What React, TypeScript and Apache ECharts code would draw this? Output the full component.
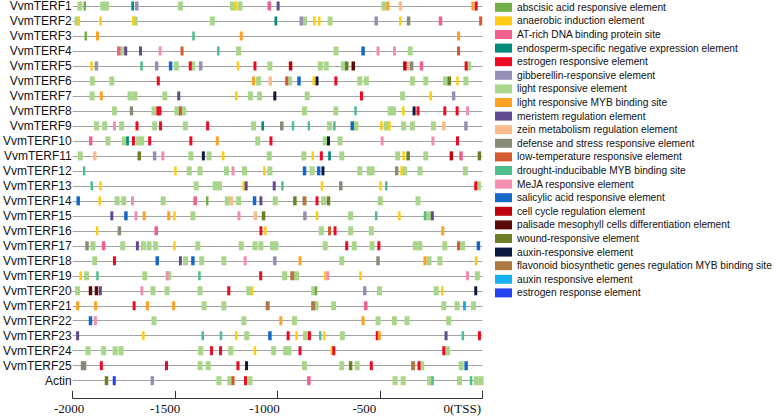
import React, { useEffect, useRef } from 'react';
import * as echarts from 'echarts';

// ---------- data ----------
const GENES = [
  'VvmTERF1', 'VvmTERF2', 'VvmTERF3', 'VvmTERF4', 'VvmTERF5', 'VvmTERF6', 'VvmTERF7',
  'VvmTERF8', 'VvmTERF9', 'VvmTERF10', 'VvmTERF11', 'VvmTERF12', 'VvmTERF13', 'VvmTERF14',
  'VvmTERF15', 'VvmTERF16', 'VvmTERF17', 'VvmTERF18', 'VvmTERF19', 'VvmTERF20', 'VvmTERF21',
  'VvmTERF22', 'VvmTERF23', 'VvmTERF24', 'VvmTERF25', 'Actin',
];

const TYPE_CODES = ['A', 'N', 'T', 'E', 'R', 'G', 'L', 'M', 'P', 'Z', 'D', 'W', 'Q', 'J', 'S', 'C', 'F', 'O', 'X', 'B', 'U', 'K'];

const TYPE_NAMES = [
  'abscisic acid responsive element',
  'anaerobic induction element',
  'AT-rich DNA binding protein site',
  'endosperm-specific negative expression element',
  'estrogen responsive element',
  'gibberellin-responsive element',
  'light responsive element',
  'light responsive MYB binding site',
  'meristem regulation element',
  'zein metabolism regulation element',
  'defense and stress responsive element',
  'low-temperature responsive element',
  'drought-inducibable MYB binding site',
  'MeJA responsive element',
  'salicylic acid responsive element',
  'cell cycle regulation element',
  'palisade mesophyll cells differentiation element',
  'wound-responsive element',
  'auxin-responsive element',
  'flavonoid biosynthetic genes regulation MYB binding site',
  'auxin responsive element',
  'estrogen response element',
];

const X_TICK_VALUES = [-2000, -1500, -1000, -500, 0];
const X_TICK_LABELS = ['-2000', '-1500', '-1000', '-500', '0(TSS)'];

type Site = [number, string];

const vvmTERF1: Site[] = [[-1965,'L'],[-1941,'A'],[-1853,'L'],[-1835,'L'],[-1707,'E'],[-1687,'G'],[-1474,'L'],[-1220,'L'],[-1183,'L'],[-1204,'N'],[-1040,'T'],[-997,'P'],[-480,'L'],[-461,'M'],[-400,'Z'],[-46,'M'],[-30,'R']];
const vvmTERF2: Site[] = [[-1979,'L'],[-1970,'N'],[-1864,'N'],[-1704,'N'],[-1695,'L'],[-1318,'L'],[-1008,'E'],[-884,'G'],[-868,'L'],[-820,'N'],[-796,'N'],[-743,'L'],[-518,'G'],[-400,'N'],[-360,'D'],[-204,'T'],[-8,'W']];
const vvmTERF3: Site[] = [[-1936,'A'],[-1879,'M'],[-1410,'Q'],[-1177,'M'],[-116,'M']];
const vvmTERF4: Site[] = [[-1775,'T'],[-1759,'L'],[-1741,'P'],[-1669,'P'],[-1573,'J'],[-1466,'W'],[-1289,'Q'],[-1190,'L'],[-714,'L'],[-582,'S'],[-509,'J'],[-429,'J'],[-352,'L'],[-116,'W']];
const vvmTERF5: Site[] = [[-1908,'N'],[-1884,'G'],[-1664,'Q'],[-1590,'G'],[-1522,'S'],[-1494,'L'],[-1426,'R'],[-1414,'L'],[-1375,'G'],[-1193,'N'],[-1110,'R'],[-1037,'L'],[-936,'C'],[-791,'L'],[-762,'L'],[-678,'L'],[-662,'O'],[-630,'F'],[-378,'C'],[-362,'Z'],[-345,'D'],[-297,'T'],[-79,'R'],[-66,'L']];
const vvmTERF6: Site[] = [[-1904,'L'],[-1809,'L'],[-1582,'R'],[-1117,'M'],[-1092,'L'],[-1035,'Z'],[-955,'W'],[-941,'L'],[-895,'S'],[-823,'N'],[-807,'X'],[-715,'R'],[-598,'L'],[-566,'L'],[-341,'L'],[-276,'L'],[-180,'L'],[-161,'O'],[-121,'N'],[-80,'L']];
const vvmTERF7: Site[] = [[-1905,'L'],[-1860,'M'],[-1720,'L'],[-1696,'L'],[-1550,'L'],[-1482,'P'],[-1201,'N'],[-1132,'L'],[-1088,'L'],[-1013,'X'],[-855,'L'],[-590,'R'],[-389,'L'],[-252,'N'],[-140,'G']];
const vvmTERF8: Site[] = [[-1796,'L'],[-1713,'D'],[-1603,'L'],[-1584,'R'],[-1574,'R'],[-1491,'L'],[-1474,'W'],[-1458,'L'],[-868,'L'],[-715,'L'],[-619,'Q'],[-450,'L'],[-434,'L'],[-386,'N'],[-333,'X'],[-314,'R'],[-183,'R'],[-123,'R'],[-72,'J']];
const vvmTERF9: Site[] = [[-1884,'L'],[-1844,'L'],[-1796,'J'],[-1761,'L'],[-1686,'R'],[-1600,'L'],[-1571,'R'],[-1450,'L'],[-1341,'R'],[-1117,'L'],[-1072,'E'],[-979,'D'],[-924,'Q'],[-847,'Q'],[-746,'L'],[-722,'Q'],[-635,'S'],[-617,'L'],[-493,'N'],[-469,'L'],[-453,'N'],[-384,'L'],[-341,'L'],[-239,'L'],[-188,'Z'],[-80,'G']];
const vvmTERF10: Site[] = [[-1912,'T'],[-1828,'L'],[-1748,'L'],[-1732,'E'],[-1703,'R'],[-1678,'L'],[-1663,'L'],[-1624,'R'],[-1423,'R'],[-1294,'M'],[-1096,'L'],[-1032,'R'],[-767,'L'],[-751,'X'],[-695,'L'],[-489,'J'],[-241,'J'],[-121,'R']];
const vvmTERF11: Site[] = [[-1963,'L'],[-1892,'Z'],[-1675,'O'],[-1600,'G'],[-1560,'J'],[-1423,'L'],[-1362,'X'],[-1334,'L'],[-1265,'N'],[-1040,'L'],[-871,'L'],[-828,'N'],[-786,'R'],[-746,'E'],[-686,'L'],[-413,'L'],[-384,'N'],[-362,'O'],[-276,'L'],[-151,'C'],[-104,'T'],[-14,'O']];
const vvmTERF12: Site[] = [[-1944,'Q'],[-1498,'N'],[-1431,'L'],[-1378,'L'],[-1249,'L'],[-1217,'J'],[-1161,'L'],[-1064,'N'],[-1037,'L'],[-868,'S'],[-831,'L'],[-799,'S'],[-778,'X'],[-598,'L'],[-552,'L'],[-538,'L'],[-418,'D'],[-394,'N'],[-380,'L'],[-304,'L'],[-83,'L']];
const vvmTERF13: Site[] = [[-1907,'Q'],[-1864,'N'],[-1397,'L'],[-1305,'L'],[-1283,'L'],[-1165,'N'],[-1153,'P'],[-1016,'P'],[-976,'Q'],[-783,'N'],[-691,'D'],[-497,'N'],[-469,'Q'],[-32,'R'],[-19,'L']];
const vvmTERF14: Site[] = [[-1973,'S'],[-1868,'N'],[-1783,'L'],[-1751,'L'],[-1708,'J'],[-1558,'L'],[-1402,'T'],[-1343,'A'],[-1245,'L'],[-1225,'Z'],[-1190,'L'],[-1112,'S'],[-1081,'P'],[-1011,'L'],[-915,'O'],[-868,'B'],[-807,'R'],[-775,'L'],[-751,'O'],[-498,'L'],[-314,'L']];
const vvmTERF15: Site[] = [[-1809,'P'],[-1740,'S'],[-1691,'J'],[-1651,'M'],[-1531,'M'],[-1503,'N'],[-1413,'L'],[-1188,'J'],[-1108,'Z'],[-1068,'O'],[-866,'G'],[-807,'N'],[-643,'L'],[-518,'Q'],[-405,'N'],[-280,'Q'],[-263,'L'],[-244,'P']];
const vvmTERF16: Site[] = [[-1881,'N'],[-1772,'D'],[-1592,'T'],[-1081,'R'],[-1059,'N'],[-786,'L'],[-746,'W'],[-719,'R'],[-643,'L'],[-542,'L'],[-193,'M']];
const vvmTERF17: Site[] = [[-1930,'D'],[-1901,'L'],[-1849,'T'],[-1756,'L'],[-1684,'P'],[-1655,'L'],[-1627,'L'],[-1595,'L'],[-1503,'N'],[-1389,'L'],[-1177,'L'],[-1110,'L'],[-1081,'L'],[-1024,'L'],[-1008,'L'],[-767,'L'],[-662,'R'],[-625,'L'],[-538,'L'],[-505,'R'],[-327,'L'],[-305,'L'],[-183,'L'],[-116,'W'],[-96,'L'],[-19,'S']];
const vvmTERF18: Site[] = [[-1892,'L'],[-1796,'R'],[-1587,'S'],[-1474,'P'],[-1449,'L'],[-1413,'S'],[-1370,'L'],[-1262,'L'],[-1158,'J'],[-1013,'G'],[-890,'M'],[-686,'L'],[-509,'D'],[-280,'M'],[-260,'L'],[-207,'L'],[-30,'N']];
const vvmTERF19: Site[] = [[-1961,'N'],[-1932,'L'],[-1879,'Q'],[-1648,'L'],[-1539,'J'],[-1531,'L'],[-1381,'Q'],[-1082,'R'],[-965,'L'],[-928,'B'],[-907,'L'],[-767,'N'],[-755,'J'],[-595,'N'],[-72,'J'],[-24,'L']];
const vvmTERF20: Site[] = [[-1976,'L'],[-1913,'F'],[-1884,'F'],[-1865,'P'],[-1662,'J'],[-1608,'L'],[-1539,'L'],[-1378,'L'],[-1238,'R'],[-1140,'L'],[-1124,'N'],[-823,'L'],[-812,'A'],[-574,'G'],[-502,'L'],[-225,'L'],[-196,'N'],[-32,'X']];
const vvmTERF21: Site[] = [[-1976,'M'],[-1888,'M'],[-1700,'R'],[-1635,'M'],[-1507,'M'],[-1358,'L'],[-1262,'L'],[-1048,'B'],[-826,'B'],[-812,'L'],[-726,'L'],[-569,'T'],[-188,'L'],[-123,'L'],[-87,'U'],[-43,'L']];
const vvmTERF22: Site[] = [[-1913,'S'],[-1889,'J'],[-1603,'L'],[-1164,'L'],[-984,'M'],[-917,'L'],[-582,'M'],[-509,'L'],[-429,'L'],[-368,'L'],[-164,'L']];
const vvmTERF23: Site[] = [[-1976,'P'],[-1655,'N'],[-1365,'Q'],[-1276,'Q'],[-1201,'N'],[-1150,'L'],[-1037,'S'],[-948,'R'],[-907,'N'],[-863,'L'],[-844,'R'],[-791,'Q'],[-772,'N'],[-683,'L'],[-513,'R'],[-503,'M'],[-177,'P'],[-95,'Q'],[-14,'R']];
const vvmTERF24: Site[] = [[-1925,'L'],[-1849,'L'],[-1793,'L'],[-1764,'L'],[-1375,'L'],[-1322,'R'],[-1278,'R'],[-1228,'L'],[-1110,'N'],[-1019,'L'],[-960,'L'],[-944,'L'],[-890,'R'],[-735,'N'],[-725,'R'],[-188,'R'],[-169,'L']];
const vvmTERF25: Site[] = [[-1952,'D'],[-1942,'D'],[-1860,'R'],[-1542,'R'],[-1378,'L'],[-1338,'L'],[-1193,'R'],[-1151,'X'],[-868,'L'],[-686,'L'],[-643,'O'],[-611,'L'],[-542,'R'],[-338,'B'],[-309,'R'],[-296,'L'],[-103,'L'],[-79,'S']];
const actin: Site[] = [[-1835,'O'],[-1797,'K'],[-1611,'G'],[-1286,'L'],[-1233,'L'],[-1217,'W'],[-1156,'R'],[-1134,'L'],[-847,'T'],[-426,'L'],[-386,'L'],[-257,'L'],[-243,'Q'],[-111,'L'],[-55,'Q'],[-30,'L'],[-6,'L']];

const SITES: Site[][] = [
  vvmTERF1, vvmTERF2, vvmTERF3, vvmTERF4, vvmTERF5, vvmTERF6, vvmTERF7, vvmTERF8, vvmTERF9,
  vvmTERF10, vvmTERF11, vvmTERF12, vvmTERF13, vvmTERF14, vvmTERF15, vvmTERF16, vvmTERF17,
  vvmTERF18, vvmTERF19, vvmTERF20, vvmTERF21, vvmTERF22, vvmTERF23, vvmTERF24, vvmTERF25, actin,
];

// ---------- styles ----------
const COLORS = [
  '#71ae48', '#ffcc11', '#f0608a', '#008b7d', '#ec0a24', '#958fb5', '#aad68c', '#ffa224',
  '#60498f', '#fbbb8c', '#878c76', '#d5582f', '#4dbf8a', '#f28fae', '#1469c8', '#c00010',
  '#5b0a0a', '#6b8024', '#0c1840', '#b07844', '#17b0ef', '#2441f2',
];
const WIDTHS = [2.5, 2.5, 3.5, 2.7, 3, 3.5, 5, 3, 3, 3.5, 3.5, 3, 2.5, 3, 3.5, 3.5, 3.5, 3.5, 3, 4, 3, 3];
const LABEL_PAD_RIGHT = [7, 20, 26, 31, 40];
const SANS = "'Liberation Sans', Arial, sans-serif";
const SERIF = "'Liberation Serif', 'Times New Roman', serif";

export default function App() {
  const ref = useRef<HTMLDivElement>(null);

  useEffect(() => {
    const chart = echarts.init(ref.current as HTMLDivElement, null, { renderer: 'svg' });

    const series = TYPE_CODES.map((code, t) => ({
      type: 'custom',
      name: TYPE_NAMES[t],
      z: code === 'L' ? 2 : 3,
      itemStyle: { color: COLORS[t] },
      encode: { x: 0, y: 1 },
      data: SITES.flatMap((row, r) => row.filter((s) => s[1] === code).map((s) => [s[0], r])),
      renderItem: (_params: any, api: any) => {
        const c = api.coord([api.value(0), api.value(1)]);
        const w = WIDTHS[t];
        const h = 9;
        return {
          type: 'rect',
          shape: { x: c[0] - w / 2, y: c[1] - h / 2, width: w, height: h },
          style: { fill: COLORS[t] },
        };
      },
    }));

    const rich: Record<string, any> = {};
    X_TICK_LABELS.forEach((_, i) => {
      rich['t' + i] = {
        fontFamily: SERIF,
        fontSize: 13,
        color: '#111',
        padding: [0, LABEL_PAD_RIGHT[i], 0, 0],
      };
    });

    chart.setOption({
      animation: false,
      color: COLORS,
      grid: { left: 67.7, right: 295.7, top: 5, bottom: 38.3 },
      xAxis: {
        type: 'value',
        min: -2000,
        max: 0,
        interval: 500,
        offset: 17.6,
        axisLine: { show: true, lineStyle: { color: '#333', width: 1 } },
        axisTick: { show: true, inside: true, length: 7.5, lineStyle: { color: '#333', width: 1 } },
        splitLine: { show: false },
        axisLabel: {
          margin: 4,
          fontFamily: SERIF,
          fontSize: 13,
          color: '#111',
          showMinLabel: true,
          showMaxLabel: true,
          formatter: (v: number) => {
            const i = X_TICK_VALUES.indexOf(v);
            return i >= 0 ? `{t${i}|${X_TICK_LABELS[i]}}` : '';
          },
          rich,
        },
      },
      yAxis: {
        type: 'category',
        data: GENES,
        inverse: true,
        boundaryGap: false,
        axisLine: { show: false },
        axisTick: { show: false },
        axisLabel: { interval: 0, margin: 1, fontFamily: SANS, fontSize: 12, color: '#111' },
        splitLine: { show: true, interval: 0, lineStyle: { color: '#a3a3a3', width: 1.2 } },
      },
      legend: {
        data: TYPE_NAMES,
        orient: 'vertical',
        left: 495,
        top: 1.8,
        padding: 0,
        itemWidth: 17,
        itemHeight: 9,
        itemGap: 2.6,
        icon: 'rect',
        selectedMode: false,
        textStyle: { fontFamily: SANS, fontSize: 10.2, lineHeight: 11, color: '#111', padding: [0, 0, 0, 0] },
      },
      series,
    });

    return () => chart.dispose();
  }, []);

  return (
    <div
      ref={ref}
      style={{ position: 'fixed', left: 0, top: 0, width: 778, height: 419, background: '#fff' }}
    />
  );
}
